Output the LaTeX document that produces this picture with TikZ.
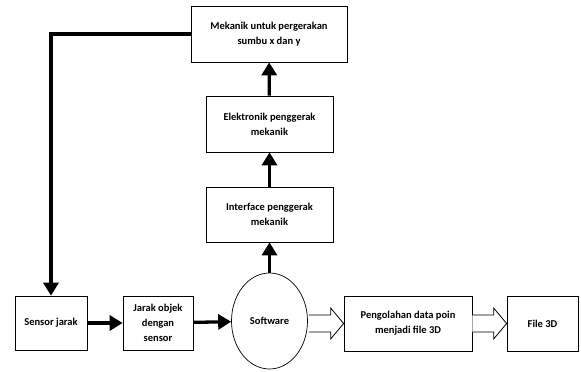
\documentclass[tikz,border=0pt]{standalone}
\usepackage{fontspec}
\setmainfont{Carlito}
\usetikzlibrary{arrows.meta,shapes.geometric,calc}
\tikzset{
  blok/.style={draw,line width=0.7pt,align=center,inner sep=2pt,font=\bfseries\fontsize{10.5}{15}\selectfont},
  panah/.style={line width=3.3pt,-{Triangle[length=13pt,width=15pt]}},
  kosong/.style={draw,line width=0.8pt,fill=white}
}
\begin{document}
\begin{tikzpicture}[x=1pt,y=-1pt]
        \useasboundingbox (0,0) rectangle (581,372);
        %blok
        \node[blok,minimum width=156pt,minimum height=56pt] (mek) at (269,34) {Mekanik untuk pergerakan\\sumbu x dan y};
        \node[blok,minimum width=127pt,minimum height=56pt] (elek) at (269.5,124) {Elektronik penggerak\\mekanik};
        \node[blok,minimum width=127pt,minimum height=55pt] (iface) at (269.5,214.5) {Interface penggerak\\mekanik};
        \node[blok,minimum width=72pt,minimum height=54pt] (sensor) at (51,323) {Sensor jarak};
        \node[blok,minimum width=70pt,minimum height=54pt] (jarak) at (158,323) {Jarak objek\\dengan\\sensor};
        \node[blok,ellipse,minimum width=76pt,minimum height=96pt] (soft) at (269.5,321) {Software};
        \node[blok,minimum width=128pt,minimum height=55pt] (olah) at (408,323.5) {Pengolahan data poin\\menjadi file 3D};
        \node[blok,minimum width=71pt,minimum height=55pt] (file) at (542.5,323.5) {File 3D};

        %panah
        \draw[panah] (mek.west) -| (sensor.north);
        \draw[panah] (sensor) -- (jarak);
        \draw[panah] (jarak) -- (soft);
        \draw[panah] (soft) -- (iface);
        \draw[panah] (iface) -- (elek);
        \draw[panah] (elek) -- (mek);

        %panah kosong
        \draw[kosong] ($(soft.east |- olah.west)+(1,-8.5)$) -- ($(olah.west)+(-13,-8.5)$) -- ($(olah.west)+(-13,-15.5)$)
          -- (olah.west) -- ($(olah.west)+(-13,15.5)$) -- ($(olah.west)+(-13,8.5)$) -- ($(soft.east |- olah.west)+(1,8.5)$);
        \draw[kosong] ($(olah.east)+(0,-8.5)$) -- ($(file.west)+(-13,-8.5)$) -- ($(file.west)+(-13,-15.5)$)
          -- (file.west) -- ($(file.west)+(-13,15.5)$) -- ($(file.west)+(-13,8.5)$) -- ($(olah.east)+(0,8.5)$);
    \end{tikzpicture}
\end{document}
